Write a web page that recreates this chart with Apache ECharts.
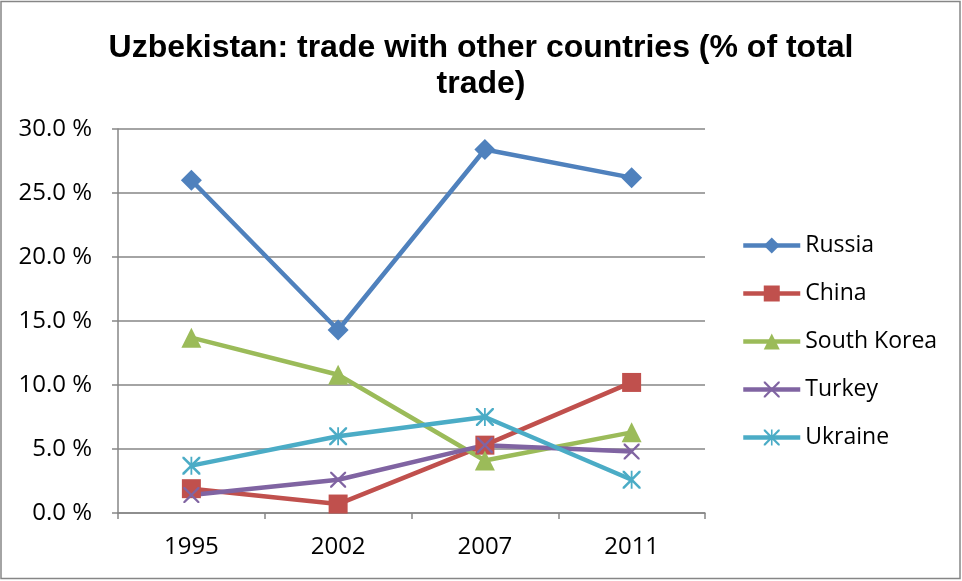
<!DOCTYPE html>
<html>
<head>
<meta charset="utf-8">
<script src="https://cdn.jsdelivr.net/npm/echarts@6/dist/echarts.min.js"></script>
<style>
  html, body { margin: 0; padding: 0; background: #fff; }
  #chart { width: 962px; height: 581px; }
</style>
</head>
<body>
<div id="chart"></div>
<script>
var years = ['1995', '2002', '2007', '2011'];
var countries = ['Russia', 'China', 'South Korea', 'Turkey', 'Ukraine'];
var russia = [26.0, 14.3, 28.4, 26.2];
var china = [1.9, 0.7, 5.3, 10.2];
var southKorea = [13.7, 10.8, 4.1, 6.3];
var turkey = [1.4, 2.6, 5.3, 4.8];
var ukraine = [3.7, 6.0, 7.5, 2.6];
var yTicks = [0, 5, 10, 15, 20, 25, 30];

var colors = ['#4f81bd', '#c0504d', '#9bbb59', '#8064a2', '#4bacc6'];

// stroke-like marks drawn as thin filled paths
var xMark = 'path://M0,0 L2,0 L10,8 L18,0 L20,0 L20,2 L12,10 L20,18 L20,20 L18,20 L10,12 L2,20 L0,20 L0,18 L8,10 L0,2 Z';
var starMark = xMark + ' M9,0 L11,0 L11,20 L9,20 Z';

var mkSeries = function (name, data, color, symbol, size) {
    return {
        name: name,
        type: 'line',
        data: data,
        symbol: symbol,
        symbolSize: size,
        showAllSymbol: true,
        lineStyle: { color: color, width: 4.5 },
        itemStyle: { color: color },
        emphasis: { disabled: true },
        z: 3
    };
};

var chart = echarts.init(document.getElementById('chart'));
chart.setOption({
    animation: false,
    color: colors,
    title: {
        text: 'Uzbekistan: trade with other countries (% of total\ntrade)',
        left: 'center',
        top: 25,
        textStyle: {
            fontFamily: '"Liberation Sans", Arial, sans-serif',
            fontWeight: 'bold',
            fontSize: 32,
            lineHeight: 36,
            color: '#000'
        }
    },
    legend: {
        orient: 'vertical',
        left: 741,
        top: 234,
        padding: 0,
        itemWidth: 57,
        itemHeight: 20,
        itemGap: 25,
        data: countries,
        lineStyle: { width: 4.5 },
        textStyle: { fontFamily: '"Open Sans", sans-serif', fontSize: 23, color: '#000' }
    },
    grid: { left: 118, right: 257, top: 129, bottom: 68, containLabel: false },
    xAxis: {
        type: 'category',
        data: years,
        boundaryGap: true,
        axisLine: { lineStyle: { color: '#868686', width: 1.5 } },
        axisTick: { show: true, length: 6, lineStyle: { color: '#868686', width: 1.5 } },
        axisLabel: { margin: 22, fontFamily: '"Open Sans", sans-serif', fontSize: 24, color: '#000' },
        splitLine: { show: false }
    },
    yAxis: {
        type: 'value',
        min: 0,
        max: 30,
        interval: 5,
        axisLine: { show: true, lineStyle: { color: '#868686', width: 1.5 } },
        axisTick: { show: true, length: 6, lineStyle: { color: '#868686', width: 1.5 } },
        axisLabel: {
            margin: 26,
            fontFamily: '"Open Sans", sans-serif',
            fontSize: 24,
            color: '#000',
            formatter: function (v) { return yTicks.indexOf(v) >= 0 ? v.toFixed(1) + ' %' : ''; }
        },
        splitLine: { show: true, lineStyle: { color: '#868686', width: 1.5 } }
    },
    graphic: [{
        type: 'rect',
        shape: { x: 1, y: 1.5, width: 959, height: 577 },
        style: { fill: 'none', stroke: '#868686', lineWidth: 1.5 },
        silent: true
    }],
    series: [
        mkSeries('Russia', russia, colors[0], 'diamond', 21),
        mkSeries('China', china, colors[1], 'rect', 19),
        mkSeries('South Korea', southKorea, colors[2], 'triangle', 20),
        mkSeries('Turkey', turkey, colors[3], xMark, 16),
        mkSeries('Ukraine', ukraine, colors[4], starMark, 18)
    ]
});
</script>
</body>
</html>
